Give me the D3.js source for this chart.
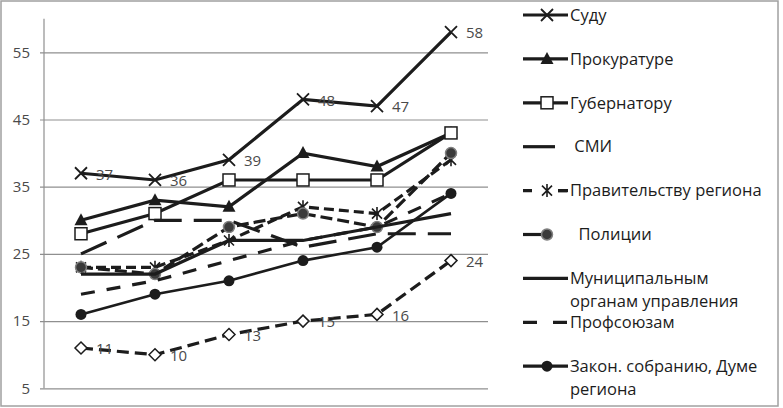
<!DOCTYPE html>
<html>
<head>
<meta charset="utf-8">
<script src="https://cdn.jsdelivr.net/npm/d3@7"></script>
<style>
  body { margin: 0; background: #fff; }
  svg { font-family: "Open Sans", sans-serif; }
</style>
</head>
<body>
<div id="chart"></div>
<script>
var width = 783, height = 408;

// six waves, not labelled on the picture
var categories = ["1", "2", "3", "4", "5", "6"];
var yTicks = [5, 15, 25, 35, 45, 55];

var sudu          = [37, 36, 39, 48, 47, 58];
var prokurature   = [30, 33, 32, 40, 38, 43];
var gubernatoru   = [28, 31, 36, 36, 36, 43];
var smi           = [25, 30, 30, 26, 28, 28];
var pravitelstvu  = [23, 23, 27, 32, 31, 39];
var policii       = [23, 22, 29, 31, 29, 40];
var municipalnym  = [22, 22, 27, 27, 29, 31];
var profsoyuzam   = [19, 21, 24, 27, 29, 34];
var zakon         = [16, 19, 21, 24, 26, 34];
var other         = [11, 10, 13, 15, 16, 24];   // not shown in the legend

var legendNames = [
  ["Суду"], ["Прокуратуре"], ["Губернатору"], [" СМИ"], ["Правительству региона"],
  ["  Полиции"], ["Муниципальным", "органам управления"], ["Профсоюзам"],
  ["Закон. собранию, Думе", "региона"]
];

var ink = "#1c1c1c";

// series table built from the arrays above
var series = [
  {values: sudu, dash: null, marker: "x", labels: true, legend: 0},
  {values: prokurature, dash: null, marker: "tri", legend: 1},
  {values: gubernatoru, dash: null, marker: "square", legend: 2},
  {values: smi, dash: "28,12", marker: null, legend: 3},
  {values: pravitelstvu, dash: "10,5", marker: "star", legend: 4},
  {values: policii, dash: "12,5", marker: "gcircle", legend: 5},
  {values: municipalnym, dash: null, marker: null, legend: 6},
  {values: profsoyuzam, dash: "14,12", marker: null, legend: 7},
  {values: zakon, dash: null, marker: "circle", legend: 8, thin: true},
  {values: other, dash: "12,6", marker: "diamond", labels: true}
];

var svg = d3.select("#chart").append("svg")
  .attr("width", width).attr("height", height);

// outer frame
svg.append("rect").attr("x", 1).attr("y", 1).attr("width", 777).attr("height", 405)
  .attr("fill", "none").attr("stroke", "#a0a0a0").attr("stroke-width", 1.5);

var x = d3.scalePoint().domain(categories).range([44, 488]).padding(0.5);
var y = d3.scaleLinear().domain([5, 60]).range([388.3, 18.7]);

// gridlines + y labels
var yAxis = d3.axisLeft(y).tickValues(yTicks).tickSize(-448).tickPadding(10);
var gy = svg.append("g").attr("transform", "translate(40,0)").call(yAxis);
gy.select(".domain").remove();
gy.selectAll(".tick line").attr("stroke", "#8f8f8f").attr("stroke-width", 1.2);
gy.selectAll(".tick text").attr("fill", "#4a4a4a").attr("font-size", 15)
  .attr("font-family", "Open Sans, sans-serif");

svg.append("line").attr("x1", 44).attr("x2", 44).attr("y1", y(60)).attr("y2", y(5))
  .attr("stroke", "#8f8f8f").attr("stroke-width", 1.2);

function drawMarker(g, type, cx, cy) {
  var m = g.append("g").attr("transform", "translate(" + cx + "," + cy + ")");
  if (type === "x") {
    m.append("path").attr("d", "M-6,-6L6,6M-6,6L6,-6").attr("stroke", ink).attr("stroke-width", 1.8);
  } else if (type === "tri") {
    m.append("path").attr("d", "M0,-7L6.5,5L-6.5,5Z").attr("fill", ink);
  } else if (type === "square") {
    m.append("rect").attr("x", -6).attr("y", -6).attr("width", 12).attr("height", 12)
      .attr("fill", "#fff").attr("stroke", ink).attr("stroke-width", 1.5);
  } else if (type === "star") {
    m.append("path").attr("d", "M-5,-5L5,5M-5,5L5,-5M0,-6.5L0,6.5")
      .attr("stroke", ink).attr("stroke-width", 1.6);
  } else if (type === "gcircle") {
    m.append("circle").attr("r", 5.5).attr("fill", "#3a3a3a").attr("stroke", "#808080").attr("stroke-width", 1.5);
  } else if (type === "circle") {
    m.append("circle").attr("r", 5.5).attr("fill", ink);
  } else if (type === "diamond") {
    m.append("path").attr("d", "M0,-6L6,0L0,6L-6,0Z")
      .attr("fill", "#fff").attr("stroke", ink).attr("stroke-width", 1.5);
  }
}

var line = d3.line()
  .x(function(d, i) { return x(categories[i]); })
  .y(function(d) { return y(d); });

var plot = svg.append("g");
series.forEach(function(s) {
  var g = plot.append("g");
  g.append("path").datum(s.values).attr("d", line)
    .attr("fill", "none").attr("stroke", ink)
    .attr("stroke-width", s.thin ? 2.6 : 3.2)
    .attr("stroke-dasharray", s.dash);
  if (s.marker) {
    s.values.forEach(function(v, i) { drawMarker(g, s.marker, x(categories[i]), y(v)); });
  }
  if (s.labels) {
    g.selectAll("text.lab").data(s.values).enter().append("text")
      .attr("x", function(d, i) { return x(categories[i]) + 15; })
      .attr("y", function(d) { return y(d) + 1; })
      .attr("dy", "0.35em")
      .attr("font-size", 15).attr("fill", "#4a4a4a")
      .text(function(d) { return d; });
  }
});

// legend
var legend = svg.append("g");
series.forEach(function(s) {
  if (s.legend === undefined) return;
  var ly = 15 + s.legend * 43.9;
  var g = legend.append("g");
  if (s.legend === 3) {
    g.append("line").attr("x1", 523).attr("x2", 555).attr("y1", ly).attr("y2", ly)
      .attr("stroke", ink).attr("stroke-width", 3.2);
  } else if (s.legend === 4) {
    g.append("line").attr("x1", 523).attr("x2", 568).attr("y1", ly).attr("y2", ly)
      .attr("stroke", ink).attr("stroke-width", 3.2).attr("stroke-dasharray", "9,26");
    g.append("line").attr("x1", 558).attr("x2", 568).attr("y1", ly).attr("y2", ly)
      .attr("stroke", ink).attr("stroke-width", 3.2);
  } else if (s.legend === 5) {
    g.append("line").attr("x1", 523).attr("x2", 548).attr("y1", ly).attr("y2", ly)
      .attr("stroke", ink).attr("stroke-width", 3.2);
  } else if (s.legend === 7) {
    g.append("line").attr("x1", 523).attr("x2", 568).attr("y1", ly).attr("y2", ly)
      .attr("stroke", ink).attr("stroke-width", 3.2).attr("stroke-dasharray", "14,16");
  } else {
    g.append("line").attr("x1", 523).attr("x2", 568).attr("y1", ly).attr("y2", ly)
      .attr("stroke", ink).attr("stroke-width", 3.2);
  }
  if (s.marker) drawMarker(g, s.marker, 547, ly);
  var t = g.append("text").attr("x", 570).attr("y", ly)
    .attr("xml:space", "preserve").style("white-space", "pre")
    .attr("font-size", 16.5).attr("fill", "#1c1c1c");
  legendNames[s.legend].forEach(function(str, k) {
    t.append("tspan").attr("x", 570).attr("dy", k === 0 ? "0.35em" : "23").text(str);
  });
});
</script>
</body>
</html>
